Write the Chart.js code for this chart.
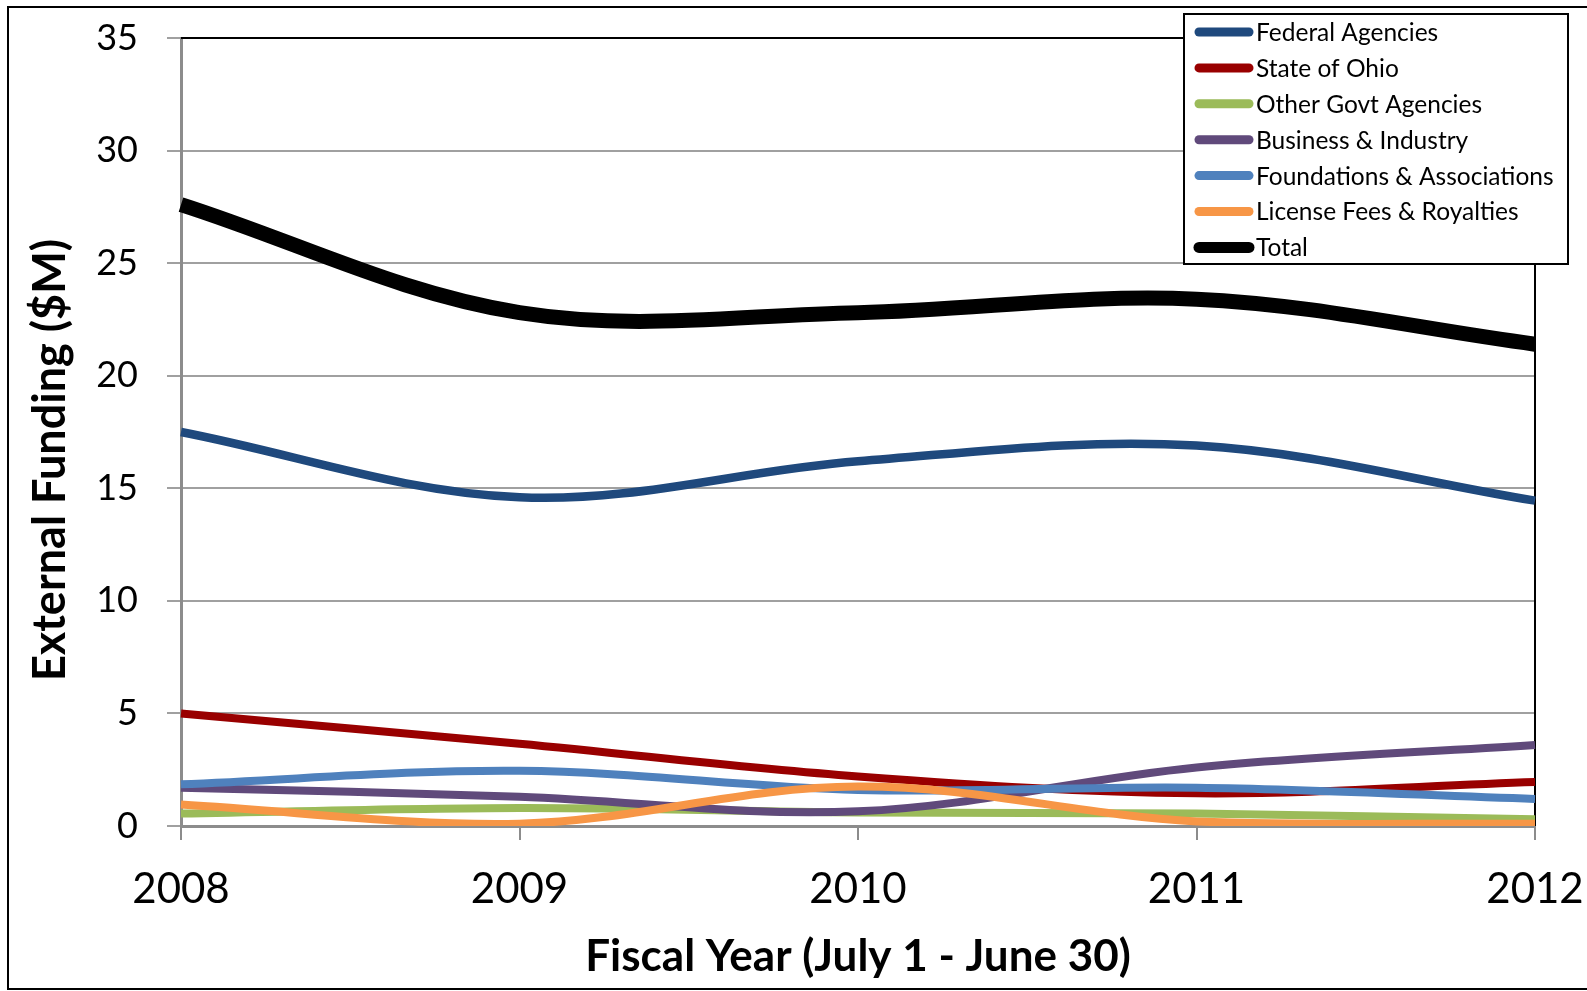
<!DOCTYPE html>
<html>
<head>
<meta charset="utf-8">
<title>External Funding by Source</title>
<script src="https://cdn.jsdelivr.net/npm/chart.js@4.4.1/dist/chart.umd.min.js"></script>
<style>
  html, body { margin: 0; padding: 0; background: #ffffff; }
  canvas { display: block; }
</style>
</head>
<body>
<canvas id="funding" width="1587" height="991"></canvas>
<script>
// Fiscal years on the x axis
const years = ['2008', '2009', '2010', '2011', '2012'];

// External funding by source, $M
const federalAgencies     = [17.5, 14.6, 16.2, 16.9, 14.45];
const stateOfOhio         = [5.0, 3.65, 2.2, 1.45, 1.95];
const otherGovtAgencies   = [0.55, 0.8, 0.6, 0.55, 0.3];
const businessIndustry    = [1.7, 1.3, 0.65, 2.6, 3.6];
const foundationsAssocs   = [1.85, 2.45, 1.6, 1.7, 1.2];
const licenseFeesRoyalty  = [0.95, 0.1, 1.75, 0.2, 0.1];
const totalFunding        = [27.6, 22.8, 22.8, 23.4, 21.4];

// Y axis range and step
const yMin = 0, yMax = 35, yStep = 5;

const seriesNames = [
  'Federal Agencies',
  'State of Ohio',
  'Other Govt Agencies',
  'Business & Industry',
  'Foundations & Associations',
  'License Fees & Royalties',
  'Total'
];
const seriesValues = [
  federalAgencies, stateOfOhio, otherGovtAgencies, businessIndustry,
  foundationsAssocs, licenseFeesRoyalty, totalFunding
];
const seriesColors = ['#1f497d', '#990000', '#9bbb59', '#604a7b', '#4f81bd', '#f79646', '#000000'];
const seriesWidths = [8.5, 8, 8, 8, 8, 8, 15];

const FONT = 'Lato, "Open Sans", "Noto Sans", sans-serif';

const datasets = seriesNames.map((name, i) => ({
  label: name,
  data: seriesValues[i],
  borderColor: seriesColors[i],
  backgroundColor: seriesColors[i],
  borderWidth: seriesWidths[i],
  borderCapStyle: 'butt',
  borderJoinStyle: 'round',
  pointRadius: 0,
  pointHoverRadius: 0,
  tension: 0.35,
  fill: false,
  order: seriesNames.length - 1 - i   // later series paint over earlier ones
}));

// Outer frame, plot-area frame and the rotated y title
const framePlugin = {
  id: 'frames',
  beforeDraw(chart) {
    const ctx = chart.ctx;
    ctx.save();
    ctx.fillStyle = '#ffffff';
    ctx.fillRect(0, 0, chart.width, chart.height);
    ctx.strokeStyle = '#000000';
    ctx.lineWidth = 2;
    ctx.strokeRect(8, 7, chart.width + 10, 982);
    ctx.restore();
  },
  beforeDatasetsDraw(chart) {
    const { ctx, chartArea: a } = chart;
    ctx.save();
    ctx.strokeStyle = '#000000';
    ctx.lineWidth = 2;
    ctx.beginPath();
    ctx.moveTo(a.left, a.top);
    ctx.lineTo(a.right, a.top);
    ctx.lineTo(a.right, a.bottom);
    ctx.stroke();
    ctx.restore();
  },
  afterDraw(chart) {
    const ctx = chart.ctx;
    ctx.save();
    ctx.translate(50, 460);
    ctx.rotate(-Math.PI / 2);
    ctx.font = 'bold 45px ' + FONT;
    ctx.fillStyle = '#000000';
    ctx.textAlign = 'center';
    ctx.textBaseline = 'middle';
    ctx.fillText('External Funding ($M)', 0, 0);
    ctx.restore();
  }
};

// Boxed legend in the upper right corner
const legendBoxPlugin = {
  id: 'legendBox',
  afterDraw(chart) {
    const ctx = chart.ctx;
    const box = { x: 1184, y: 14, w: 384, h: 250 };
    ctx.save();
    ctx.fillStyle = '#ffffff';
    ctx.fillRect(box.x, box.y, box.w, box.h);
    ctx.strokeStyle = '#000000';
    ctx.lineWidth = 2;
    ctx.strokeRect(box.x, box.y, box.w, box.h);
    ctx.font = '24.5px ' + FONT;
    ctx.textAlign = 'left';
    ctx.textBaseline = 'middle';
    chart.data.datasets.forEach((ds, i) => {
      const cy = 32 + i * 35.9;
      ctx.strokeStyle = ds.borderColor;
      ctx.lineWidth = i === chart.data.datasets.length - 1 ? 11 : 9;
      ctx.lineCap = 'round';
      ctx.beginPath();
      ctx.moveTo(1199, cy);
      ctx.lineTo(1249, cy);
      ctx.stroke();
      ctx.fillStyle = '#000000';
      ctx.fillText(ds.label, 1256, cy + 1);
    });
    ctx.restore();
  }
};

new Chart(document.getElementById('funding'), {
  type: 'line',
  data: { labels: years, datasets },
  plugins: [framePlugin, legendBoxPlugin],
  options: {
    responsive: false,
    devicePixelRatio: 1,
    animation: false,
    events: [],
    layout: { padding: { top: 38, right: 52, bottom: 8, left: 10 } },
    plugins: {
      legend: { display: false },
      tooltip: { enabled: false },
      title: { display: false }
    },
    scales: {
      x: {
        type: 'category',
        offset: false,
        afterFit(scale) {
          scale.height = 157;
          scale.paddingLeft = 0;
          scale.paddingRight = 0;
        },
        grid: {
          drawOnChartArea: false,
          drawTicks: true,
          tickLength: 14,
          color: '#8c8c8c',
          lineWidth: 2
        },
        border: { display: true, color: '#8c8c8c', width: 3 },
        ticks: {
          color: '#000000',
          font: { family: FONT, size: 42 },
          padding: 24,
          maxRotation: 0,
          autoSkip: false
        },
        title: {
          display: true,
          text: 'Fiscal Year (July 1 - June 30)',
          color: '#000000',
          font: { family: FONT, size: 44, weight: 'bold' },
          padding: { top: 0, bottom: 0 }
        }
      },
      y: {
        min: yMin,
        max: yMax,
        afterFit(scale) {
          scale.width = 171;
          scale.paddingTop = 0;
          scale.paddingBottom = 0;
        },
        grid: {
          color: '#a0a0a0',
          lineWidth: 2,
          drawTicks: true,
          tickLength: 14
        },
        border: { display: true, color: '#8c8c8c', width: 3 },
        ticks: {
          stepSize: yStep,
          color: '#000000',
          font: { family: FONT, size: 36 },
          padding: 29
        },
        title: { display: false }
      }
    }
  }
});
</script>
</body>
</html>
